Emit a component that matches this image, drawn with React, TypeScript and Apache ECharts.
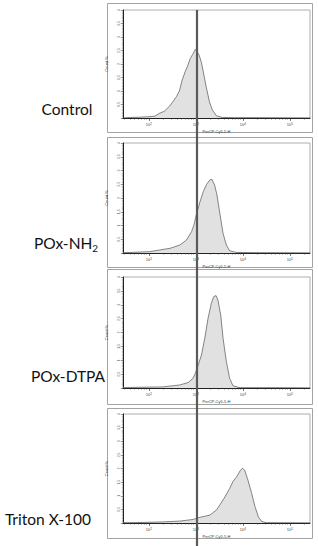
import React, { useEffect, useRef } from "react";
import * as echarts from "echarts";

// x: log10(PerCP-Cy5-5-H intensity), y: Count %
const control: number[][] = [
  [1.45, 0.0], [1.6, 0.02], [1.81, 0.03], [2.02, 0.05], [2.13, 0.07], [2.22, 0.17],
  [2.33, 0.25], [2.43, 0.42], [2.52, 0.62], [2.59, 0.8], [2.65, 1.0], [2.71, 1.41],
  [2.78, 1.75], [2.82, 1.9], [2.88, 2.2], [2.93, 2.35], [2.99, 2.54], [3.03, 2.45],
  [3.07, 2.33], [3.12, 2.05], [3.16, 1.7], [3.22, 1.16], [3.29, 0.6], [3.35, 0.3],
  [3.44, 0.08], [3.57, 0.02], [3.82, 0.01], [4.36, 0.01], [5.2, 0.0], [5.43, 0.0],
];
const poxNH2: number[][] = [
  [1.45, 0.01], [1.6, 0.02], [2.02, 0.05], [2.23, 0.11], [2.45, 0.17], [2.66, 0.29],
  [2.8, 0.47], [2.91, 0.78], [2.96, 1.02], [3.01, 1.39], [3.09, 1.87], [3.16, 2.24],
  [3.23, 2.5], [3.3, 2.66], [3.34, 2.68], [3.4, 2.47], [3.45, 2.11], [3.51, 1.45],
  [3.58, 0.71], [3.65, 0.29], [3.72, 0.08], [3.87, 0.02], [4.4, 0.01], [5.43, 0.0],
];
const poxDTPA: number[][] = [
  [1.45, 0.01], [1.6, 0.02], [2.3, 0.04], [2.66, 0.11], [2.84, 0.2], [2.94, 0.35],
  [2.99, 0.53], [3.05, 0.83], [3.12, 1.19], [3.19, 1.79], [3.26, 2.51], [3.33, 3.05],
  [3.38, 3.29], [3.43, 3.33], [3.47, 3.17], [3.53, 2.63], [3.58, 1.79], [3.65, 0.95],
  [3.72, 0.35], [3.79, 0.08], [3.94, 0.01], [4.6, 0.01], [5.43, 0.0],
];
const triton: number[][] = [
  [1.45, 0.01], [1.6, 0.01], [2.3, 0.04], [2.66, 0.07], [2.94, 0.13], [3.09, 0.21],
  [3.3, 0.29], [3.44, 0.48], [3.51, 0.66], [3.62, 0.96], [3.72, 1.27], [3.79, 1.52],
  [3.87, 1.7], [3.94, 1.91], [3.99, 2.01], [4.04, 1.94], [4.11, 1.57], [4.19, 1.08],
  [4.26, 0.6], [4.33, 0.23], [4.4, 0.06], [4.5, 0.01], [5.43, 0.0],
];

const panelNames = ["Control", "POx-NH2", "POx-DTPA", "Triton X-100"];
const panelData = [control, poxNH2, poxDTPA, triton];
const xMajorTicks = [2, 3, 4, 5];
const xMinorTickRaw = [
  30, 40, 50, 60, 70, 80, 90,
  100, 200, 300, 400, 500, 600, 700, 800, 900,
  1000, 2000, 3000, 4000, 5000, 6000, 7000, 8000, 9000,
  10000, 20000, 30000, 40000, 50000, 60000, 70000, 80000, 90000,
  100000, 200000,
];
const xAxisName = "PerCP-Cy5-5-H";
const yAxisName = "Count %";

// layout
const GRIDS = [
  { top: 10, height: 108 },
  { top: 143, height: 110 },
  { top: 277, height: 111 },
  { top: 414, height: 109 },
];
const OUTER = [
  { y: 3, h: 129 },
  { y: 137, h: 130 },
  { y: 269, h: 135 },
  { y: 408, h: 130 },
];
const LABELS = [
  { x: 67, y: 109 },
  { x: 66, y: 243 },
  { x: 68, y: 376 },
  { x: 48, y: 519 },
];
const X_MIN = 1.45;
const X_MAX = 5.43;

export default function App() {
  const ref = useRef<HTMLDivElement>(null);
  useEffect(() => {
    if (!ref.current) return;
    const chart = echarts.init(ref.current, null, { renderer: "svg" });
    const grid: any[] = [];
    const xAxis: any[] = [];
    const yAxis: any[] = [];
    const series: any[] = [];
    const minorVals = xMinorTickRaw.map((v) => Math.log10(v)).filter((v) => v > X_MIN && v < X_MAX);
    GRIDS.forEach((g, i) => {
      grid.push({
        left: 123,
        width: 187,
        top: g.top,
        height: g.height,
        show: true,
        borderColor: "#9a9a9a",
        borderWidth: 0.8,
        backgroundColor: "#fff",
      });
      xAxis.push({
        type: "value",
        gridIndex: i,
        position: "bottom",
        min: X_MIN,
        max: X_MAX,
        name: xAxisName,
        nameLocation: "middle",
        nameGap: 11,
        nameTextStyle: { fontSize: 4, color: "#333", fontFamily: "Arial, Liberation Sans" },
        axisLine: { show: true, onZero: false, lineStyle: { color: "#222", width: 1 } },
        axisTick: { show: true, length: 3, customValues: xMajorTicks, lineStyle: { color: "#333", width: 0.6 } },
        axisLabel: {
          show: true,
          customValues: xMajorTicks,
          margin: 4,
          fontSize: 4,
          color: "#444",
          formatter: (v: number) => "10{s|" + Math.round(v) + "}",
          rich: { s: { fontSize: 3, verticalAlign: "top", color: "#444" } },
        },
        splitLine: { show: false },
      });
      xAxis.push({
        type: "value",
        gridIndex: i,
        position: "bottom",
        min: X_MIN,
        max: X_MAX,
        axisLine: { show: false },
        axisTick: { show: true, length: 1.6, customValues: minorVals, lineStyle: { color: "#333", width: 0.5 } },
        axisLabel: { show: false },
        splitLine: { show: false },
      });
      yAxis.push({
        type: "value",
        gridIndex: i,
        min: 0,
        max: 4,
        interval: 0.5,
        name: yAxisName,
        nameLocation: "middle",
        nameGap: 8,
        nameTextStyle: { fontSize: 4, color: "#333", fontFamily: "Arial, Liberation Sans" },
        axisLine: { show: true, lineStyle: { color: "#222", width: 1 } },
        axisTick: { show: true, length: 2.2, lineStyle: { color: "#333", width: 0.5 } },
        minorTick: { show: true, splitNumber: 5, length: 1.2, lineStyle: { color: "#444", width: 0.4 } },
        axisLabel: {
          show: true,
          rotate: 90,
          fontSize: 3.5,
          margin: 2.5,
          color: "#555",
          showMinLabel: false,
          formatter: (v: number) => (v === 0 ? "" : String(v)),
        },
        splitLine: { show: false },
      });
      series.push({
        type: "line",
        xAxisIndex: i * 2,
        yAxisIndex: i,
        data: panelData[i],
        showSymbol: false,
        symbol: "none",
        lineStyle: { color: "#555", width: 0.7 },
        areaStyle: { color: "#e1e1e1", opacity: 1 },
        silent: true,
      });
    });

    const graphic: any[] = [];
    OUTER.forEach((o) => {
      graphic.push({
        type: "rect",
        shape: { x: 107.5, y: o.y + 0.5, width: 205, height: o.h },
        style: { fill: "none", stroke: "#a3a3a3", lineWidth: 1 },
        z: 0,
        silent: true,
      });
    });
    LABELS.forEach((l, i) => {
      const name = panelNames[i];
      const isNH2 = name === "POx-NH2";
      graphic.push({
        type: "text",
        x: l.x,
        y: l.y,
        style: isNH2
          ? {
              text: "{a|POx-NH}{b|2}",
              rich: {
                a: { fontSize: 15.5, fontFamily: "Lato", fill: "#111" },
                b: { fontSize: 10, fontFamily: "Lato", fill: "#111", padding: [10, 0, 0, 0] },
              },
              align: "center",
              verticalAlign: "middle",
            }
          : {
              text: name,
              fontSize: 15.5,
              fontFamily: "Lato",
              fill: "#111",
              align: "center",
              verticalAlign: "middle",
            },
        silent: true,
      });
    });
    graphic.push({
      type: "line",
      shape: { x1: 197, y1: 10, x2: 197, y2: 546 },
      style: { stroke: "#5a5a5a", lineWidth: 2.2 },
      z: 100,
      silent: true,
    });

    chart.setOption({
      animation: false,
      backgroundColor: "#fff",
      grid,
      xAxis,
      yAxis,
      series,
      graphic,
    });
    return () => chart.dispose();
  }, []);
  return (
    <div
      ref={ref}
      style={{ position: "fixed", left: 0, top: 0, width: 318, height: 546, background: "#fff" }}
    />
  );
}
